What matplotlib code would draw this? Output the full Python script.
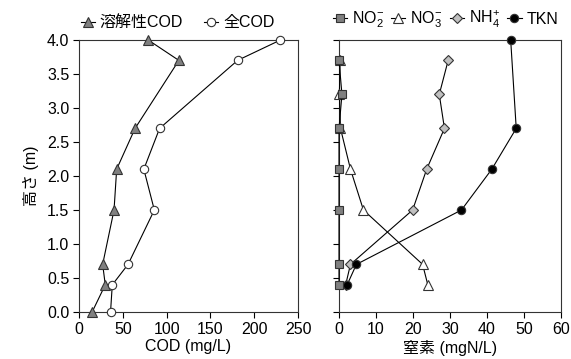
import matplotlib
matplotlib.use('Agg')
import matplotlib.pyplot as plt

plt.rcParams['font.family'] = ['Liberation Sans', 'Noto Sans CJK JP']
plt.rcParams['mathtext.fontset'] = 'custom'
plt.rcParams['mathtext.rm'] = 'Liberation Sans'
plt.rcParams['mathtext.it'] = 'Liberation Sans:italic'
plt.rcParams['axes.unicode_minus'] = False

# COD profiles (left panel)
h_cod = [4.0, 3.7, 2.7, 2.1, 1.5, 0.7, 0.4, 0.0]
cod_dissolved = [79, 114, 64, 43, 40, 27, 30, 15]
cod_total = [230, 181, 92, 74, 86, 56, 38, 36]

# nitrogen profiles (right panel)
h_n = [3.7, 3.2, 2.7, 2.1, 1.5, 0.7, 0.4]
no2 = [0.0, 0.8, 0.0, 0.0, 0.0, 0.0, 0.0]
no3 = [0.3, 0.1, 0.4, 3.1, 6.6, 22.6, 24.0]
nh4 = [29.5, 27.1, 28.5, 23.7, 19.9, 3.1, 1.8]
h_tkn = [4.0, 2.7, 2.1, 1.5, 0.7, 0.4]
tkn = [46.4, 47.9, 41.3, 33.1, 4.7, 2.2]

fs = 11.5
W, H = 571, 359
fig = plt.figure(figsize=(W / 100, H / 100), dpi=100)
ax1 = fig.add_axes([79 / W, 47 / H, 219 / W, 272 / H])
ax2 = fig.add_axes([339 / W, 47 / H, 222 / W, 272 / H])

lk = dict(color='black', lw=0.8, markeredgecolor='#333333', markeredgewidth=0.8,
          clip_on=False)

ax1.plot(cod_dissolved, h_cod, marker='^', ms=6.5, markerfacecolor='#808080',
         label='溶解性COD', zorder=3, **lk)
ax1.plot(cod_total, h_cod, marker='o', ms=6, markerfacecolor='white',
         label='全COD', zorder=3, **lk)

ax2.plot(no2, h_n, marker='s', ms=6, markerfacecolor='#808080',
         label='NO$_2^{-}$', zorder=5, **lk)
ax2.plot(no3, h_n, marker='^', ms=6.5, markerfacecolor='white',
         label='NO$_3^{-}$', zorder=3, **lk)
ax2.plot(nh4, h_n, marker='D', ms=5, markerfacecolor='#c0c0c0',
         label='NH$_4^{+}$', zorder=3, **lk)
ax2.plot(tkn, h_tkn, marker='o', ms=6, markerfacecolor='black',
         label='TKN', zorder=4, **lk)

ax1.set_xlim(0, 250)
ax1.set_xticks([0, 50, 100, 150, 200, 250])
ax2.set_xlim(0, 60)
ax2.set_xticks(range(0, 61, 10))
yt = [0, 0.5, 1.0, 1.5, 2.0, 2.5, 3.0, 3.5, 4.0]
for ax in (ax1, ax2):
    ax.set_ylim(0, 4.0)
    ax.set_yticks(yt)
    ax.tick_params(direction='out', length=4, width=0.8, labelsize=fs, pad=3)
    for s in ax.spines.values():
        s.set_linewidth(0.8)
        s.set_color('#333333')
ax1.set_yticklabels(['%.1f' % v for v in yt])
ax2.set_yticklabels([])

ax1.set_xlabel('COD (mg/L)', fontsize=fs, labelpad=2)
ax2.set_xlabel('窒素 (mgN/L)', fontsize=fs, labelpad=2)
ax1.set_ylabel('高さ (m)', fontsize=fs, labelpad=6)

leg_kw = dict(frameon=False, fontsize=fs, handlelength=0.9,
              handletextpad=0.3, borderaxespad=0.4, borderpad=0.2)
ax1.legend(ncol=2, loc='lower center', bbox_to_anchor=(0.45, 1.0),
           columnspacing=1.3, **leg_kw)
ax2.legend(ncol=4, loc='lower right', bbox_to_anchor=(1.03, 1.0),
           columnspacing=0.45, **leg_kw)

fig.savefig('out.png', dpi=100)
